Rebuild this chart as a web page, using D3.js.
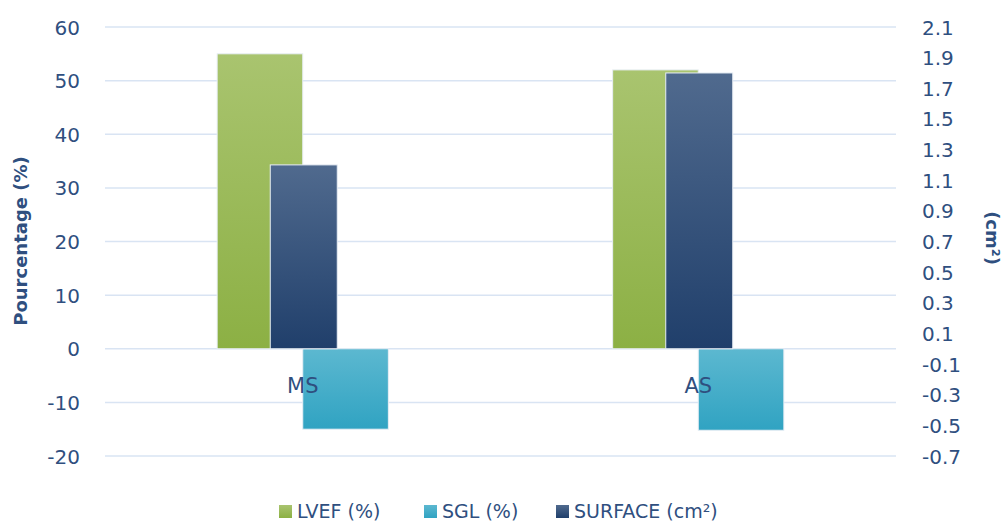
<!DOCTYPE html>
<html>
<head>
<meta charset="utf-8">
<script src="https://cdn.jsdelivr.net/npm/d3@7"></script>
<style>
  body { margin: 0; background: #fff; }
  svg text { font-family: "DejaVu Sans", sans-serif; fill: #2f4f7f; }
</style>
</head>
<body>
<svg></svg>
<script>
let categories = ["MS", "AS"];
let lvef = [55, 52];
let sgl = [-15, -15.2];
let surface = [1.2, 1.8];
let leftTicks = [60, 50, 40, 30, 20, 10, 0, -10, -20];
let rightTicks = [2.1, 1.9, 1.7, 1.5, 1.3, 1.1, 0.9, 0.7, 0.5, 0.3, 0.1, -0.1, -0.3, -0.5, -0.7];

let width = 1003;
let height = 524;
let plotLeft = 105, plotRight = 896, plotTop = 27, plotBottom = 456;

let svg = d3.select("svg").attr("width", width).attr("height", height);

let defs = svg.append("defs");
let grad = (id, c1, c2) => {
    let g = defs.append("linearGradient").attr("id", id)
        .attr("x1", 0).attr("y1", 0).attr("x2", 0).attr("y2", 1);
    g.append("stop").attr("offset", "0%").attr("stop-color", c1);
    g.append("stop").attr("offset", "100%").attr("stop-color", c2);
};
grad("gGreen", "#a9c46f", "#8cb044");
grad("gCyan", "#5cb8d0", "#30a3c2");
grad("gBlue", "#506a8e", "#203f6b");

let xScale = d3.scaleBand().domain(categories).range([plotLeft, plotRight]);
let yLeft = d3.scaleLinear().domain([-20, 60]).range([plotBottom, plotTop]);
let yRight = d3.scaleLinear().domain([-0.7, 2.1]).range([plotBottom, plotTop]);

// gridlines
svg.append("g").selectAll("line").data(leftTicks).enter().append("line")
    .attr("x1", plotLeft).attr("x2", plotRight)
    .attr("y1", d => yLeft(d)).attr("y2", d => yLeft(d))
    .attr("stroke", "#d9e4f3").attr("stroke-width", 1.5);

// left axis
let yAxisL = d3.axisLeft(yLeft).tickValues(leftTicks).tickSize(0).tickPadding(0)
    .tickFormat(d => String(d));
let gl = svg.append("g").attr("transform", `translate(80, 0)`).call(yAxisL);
gl.select(".domain").remove();
gl.selectAll("text").attr("font-size", 20).attr("font-family", null).attr("fill", "#2f4f7f").attr("dy", "0.35em");

// right axis
let yAxisR = d3.axisRight(yRight).tickValues(rightTicks).tickSize(0).tickPadding(0)
    .tickFormat(d => String(d));
let gr = svg.append("g").attr("transform", `translate(922, 0)`).call(yAxisR);
gr.select(".domain").remove();
gr.selectAll("text").attr("font-size", 20).attr("font-family", null).attr("fill", "#2f4f7f").attr("dy", "0.35em");

// primary bars
let inner = d3.scaleBand().domain(["lvef", "sgl"]).range([0, xScale.bandwidth()]).paddingOuter(1.31).paddingInner(0);
let drawBars = (vals, key, fill) => {
    svg.append("g").selectAll("rect").data(vals).enter().append("rect")
        .attr("x", (d, i) => xScale(categories[i]) + inner(key))
        .attr("width", inner.bandwidth())
        .attr("y", d => yLeft(Math.max(0, d)))
        .attr("height", d => Math.abs(yLeft(d) - yLeft(0)))
        .attr("fill", fill)
        .attr("stroke", "#e8eef5").attr("stroke-width", 1);
};
drawBars(lvef, "lvef", "url(#gGreen)");
drawBars(sgl, "sgl", "url(#gCyan)");

// secondary bars
let sw = 67;
svg.append("g").selectAll("rect").data(surface).enter().append("rect")
    .attr("x", (d, i) => xScale(categories[i]) + xScale.bandwidth() / 2 - sw / 2 + 1)
    .attr("width", sw)
    .attr("y", d => yRight(d))
    .attr("height", d => yRight(0) - yRight(d))
    .attr("fill", "url(#gBlue)")
    .attr("stroke", "#e8eef5").attr("stroke-width", 1);

// category labels
svg.append("g").selectAll("text").data(categories).enter().append("text")
    .attr("x", d => xScale(d) + xScale.bandwidth() / 2)
    .attr("y", 393)
    .attr("text-anchor", "middle")
    .attr("font-size", 21)
    .text(d => d);

// axis titles
svg.append("text")
    .attr("transform", `translate(27, 241) rotate(-90)`)
    .attr("text-anchor", "middle")
    .attr("font-size", 18).attr("font-weight", "bold")
    .text("Pourcentage (%)");
svg.append("text")
    .attr("transform", `translate(986, 238) rotate(90)`)
    .attr("text-anchor", "middle")
    .attr("font-size", 18).attr("font-weight", "bold")
    .text("(cm²)");

// legend
let legendItems = [
    { label: "LVEF (%)", fill: "url(#gGreen)", x: 279 },
    { label: "SGL (%)", fill: "url(#gCyan)", x: 424 },
    { label: "SURFACE (cm²)", fill: "url(#gBlue)", x: 556 }
];
let lg = svg.append("g").selectAll("g").data(legendItems).enter().append("g")
    .attr("transform", d => `translate(${d.x}, 505)`);
lg.append("rect").attr("width", 13).attr("height", 13).attr("fill", d => d.fill);
lg.append("text").attr("x", 18).attr("y", 13).attr("font-size", 19).text(d => d.label);
</script>
</body>
</html>
